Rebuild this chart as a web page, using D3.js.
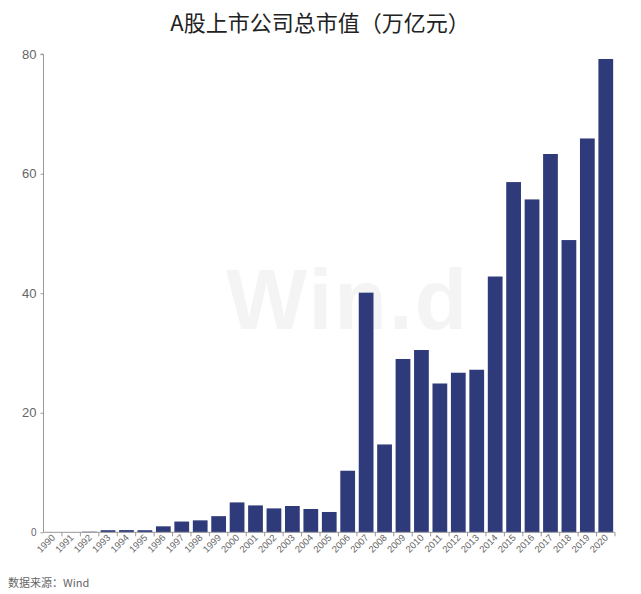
<!DOCTYPE html>
<html><head><meta charset="utf-8">
<script src="https://cdn.jsdelivr.net/npm/d3@7/dist/d3.min.js"></script>
<style>body{margin:0;background:#fff;}svg{display:block;}</style>
</head><body>
<script>
const years = ["1990","1991","1992","1993","1994","1995","1996","1997","1998","1999","2000","2001","2002","2003","2004","2005","2006","2007","2008","2009","2010","2011","2012","2013","2014","2015","2016","2017","2018","2019","2020"];
const values = [0.01,0.02,0.1,0.35,0.37,0.35,1.0,1.8,2.0,2.7,5.0,4.5,4.0,4.4,3.9,3.4,10.3,40.1,14.7,29.0,30.5,24.9,26.7,27.2,42.8,58.6,55.7,63.3,48.9,65.9,79.2];
const yTicks = [0,20,40,60,80];
const title = "A股上市公司总市值（万亿元）";
const source = "数据来源：Wind";

const W = 641, H = 594;
const svg = d3.select("body").append("svg").attr("width", W).attr("height", H);
const m = {left: 43.5, right: 615, top: 54.2, bottom: 532.3};

// watermark
svg.append("text").attr("x", 226).attr("y", 329)
  .attr("font-family", "Liberation Sans, Arial, sans-serif").attr("font-weight", "bold")
  .attr("font-size", 86).attr("fill", "#f4f4f4").attr("letter-spacing", 2).text("Win.d");

svg.append("text").attr("x", 320).attr("y", 31).attr("text-anchor", "middle")
  .attr("font-family", "Noto Sans CJK SC, sans-serif").attr("font-size", 22).attr("fill", "#222")
  .text(title);

const x = d3.scaleBand().domain(years).range([m.left, m.right]).paddingInner(0.2).paddingOuter(0.1);
const y = d3.scaleLinear().domain([0, 80]).range([m.bottom, m.top]);

svg.append("g").selectAll("rect").data(values).join("rect")
  .attr("x", (d, i) => x(years[i]))
  .attr("width", x.bandwidth())
  .attr("y", d => y(d))
  .attr("height", d => y(0) - y(d))
  .attr("fill", "#2e3a7a");

// y axis
const ya = svg.append("g").attr("transform", `translate(${m.left},0)`)
  .call(d3.axisLeft(y).tickValues(yTicks).tickSize(3).tickPadding(4));
ya.select(".domain").attr("stroke", "#999").attr("d", `M-3,${m.top}H0V${m.bottom}`);
ya.selectAll(".tick line").attr("stroke", "#999");
ya.selectAll("text").attr("font-family", "Liberation Sans, Arial, sans-serif").attr("fill", "#666")
  .attr("font-size", d => d === 0 ? 10 : 13);

// x axis
const xa = svg.append("g").attr("transform", `translate(0,${m.bottom})`)
  .call(d3.axisBottom(x).tickSize(0).tickPadding(0));
xa.select(".domain").attr("stroke", "#999").attr("d", `M${m.left},0H${m.right}`);
xa.selectAll(".tick").append("line").attr("x1", x.step()/2).attr("x2", x.step()/2)
  .attr("y1", 0).attr("y2", 4).attr("stroke", "#999");
xa.selectAll(".tick text")
  .attr("font-family", "Liberation Sans, Arial, sans-serif").attr("font-size", 9.5).attr("fill", "#666")
  .attr("text-anchor", "end").attr("dy", 0).attr("y", 0)
  .attr("transform", "translate(3,6) rotate(-45)");

svg.append("text").attr("x", 8).attr("y", 587)
  .attr("font-family", "Noto Sans CJK SC, sans-serif").attr("font-size", 11).attr("fill", "#666")
  .text(source);
</script>
</body></html>
